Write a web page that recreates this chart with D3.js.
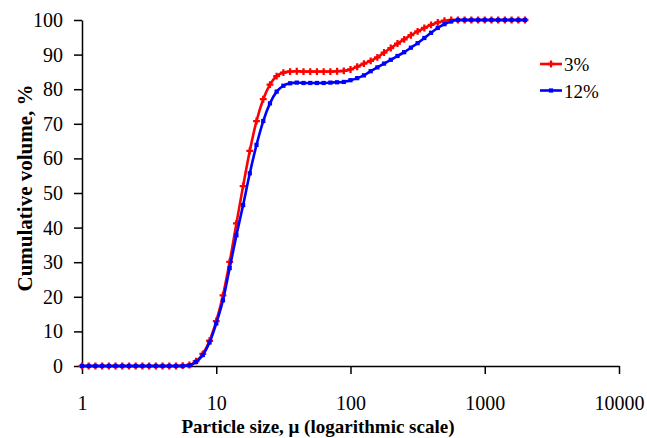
<!DOCTYPE html>
<html>
<head>
<meta charset="utf-8">
<script src="https://cdn.jsdelivr.net/npm/d3@7"></script>
<style>
  body { margin: 0; background: #fff; }
</style>
</head>
<body>
<div id="app"></div>
<script>
// particle size bins (µ), 20 per decade
const sizes = [1, 1.122, 1.259, 1.413, 1.585, 1.778, 1.995, 2.239, 2.512, 2.818,
  3.162, 3.548, 3.981, 4.467, 5.012, 5.623, 6.310, 7.079, 7.943, 8.913,
  10, 11.22, 12.59, 14.13, 15.85, 17.78, 19.95, 22.39, 25.12, 28.18,
  31.62, 35.48, 39.81, 44.67, 50.12, 56.23, 63.10, 70.79, 79.43, 89.13,
  100, 112.2, 125.9, 141.3, 158.5, 177.8, 199.5, 223.9, 251.2, 281.8,
  316.2, 354.8, 398.1, 446.7, 501.2, 562.3, 631.0, 707.9, 794.3, 891.3,
  1000, 1122, 1259, 1413, 1585, 1778, 1995];

// cumulative volume, %
const vol3 = [0, 0, 0, 0, 0, 0, 0, 0, 0, 0,
  0, 0, 0, 0, 0, 0.1, 0.3, 1.4, 3.5, 7.3,
  13, 20.4, 30.1, 41.2, 52, 62.2, 70.8, 77.1, 81.3, 83.8,
  84.8, 85.1, 85.2, 85.1, 85.1, 85.1, 85.1, 85.1, 85.2, 85.3,
  85.7, 86.5, 87.4, 88.2, 89.2, 90.6, 91.9, 93.2, 94.4, 95.6,
  96.7, 97.7, 98.6, 99.3, 99.8, 100, 100, 100, 100, 100,
  100, 100, 100, 100, 100, 100, 100];

const vol12 = [0, 0, 0, 0, 0, 0, 0, 0, 0, 0,
  0, 0, 0, 0, 0, 0, 0.2, 1.2, 3.2, 6.8,
  12.3, 19, 28.3, 37.8, 46.5, 55.7, 63.9, 70.8, 75.9, 79.3,
  81, 81.7, 81.9, 81.8, 81.8, 81.8, 81.8, 81.9, 82, 82.1,
  82.6, 83.2, 84, 85.2, 86.3, 87.4, 88.5, 89.6, 90.7, 92,
  93.3, 94.8, 96.3, 97.7, 98.8, 99.6, 100, 100, 100, 100,
  100, 100, 100, 100, 100, 100, 100];

const seriesNames = ['3%', '12%'];
const xTicks = [1, 10, 100, 1000, 10000];
const yTicks = [0, 10, 20, 30, 40, 50, 60, 70, 80, 90, 100];

const width = 647, height = 438;
const margin = { left: 82, top: 20, right: 28, bottom: 72 };
const serif = 'Liberation Serif';

const svg = d3.select('#app')
  .append('svg')
    .attr('width', width)
    .attr('height', height);

const x = d3.scaleLog().domain([1, 10000]).range([margin.left, width - margin.right]);
const y = d3.scaleLinear().domain([0, 100]).range([height - margin.bottom, margin.top]);

// axes
const gx = svg.append('g')
  .attr('transform', `translate(0, ${y(0)})`)
  .call(d3.axisBottom(x).tickValues(xTicks).tickFormat(d3.format('d')).tickSize(8).tickPadding(22).tickSizeOuter(0));

const gy = svg.append('g')
  .attr('transform', `translate(${x(1)}, 0)`)
  .call(d3.axisLeft(y).tickValues(yTicks).tickSize(8).tickPadding(11).tickSizeOuter(0));

[gx, gy].forEach(g => {
  g.attr('font-family', serif).attr('font-size', 20);
  g.select('.domain').attr('stroke', '#000').attr('stroke-width', 1.5);
  g.selectAll('.tick line').attr('stroke', '#000').attr('stroke-width', 1.5);
  g.selectAll('.tick text').attr('fill', '#000');
});

// axis titles
svg.append('text')
  .attr('x', 318)
  .attr('y', 433)
  .attr('text-anchor', 'middle')
  .attr('font-family', serif)
  .attr('font-size', 19)
  .attr('font-weight', 'bold')
  .text('Particle size, μ (logarithmic scale)');

svg.append('text')
  .attr('transform', 'translate(32, 188) rotate(-90)')
  .attr('text-anchor', 'middle')
  .attr('font-family', serif)
  .attr('font-size', 21)
  .attr('font-weight', 'bold')
  .text('Cumulative volume, %');

// series
const series = [
  { name: seriesNames[0], values: vol3, color: '#ff0000', symbol: d3.symbolCross },
  { name: seriesNames[1], values: vol12, color: '#0000ff', symbol: d3.symbolSquare }
];

const line = d3.line()
  .x((d, i) => x(sizes[i]))
  .y(d => y(d))
  .curve(d3.curveMonotoneX);

series.forEach(s => {
  const g = svg.append('g');
  g.append('path')
    .datum(s.values)
    .attr('fill', 'none')
    .attr('stroke', s.color)
    .attr('stroke-width', 2.6)
    .attr('d', line);
  g.selectAll('path.mk')
    .data(s.values)
    .join('path')
      .attr('class', 'mk')
      .attr('transform', (d, i) => `translate(${x(sizes[i])}, ${y(d)})`)
      .attr('d', d3.symbol().type(s.symbol).size(s.symbol === d3.symbolCross ? 26 : 18))
      .attr('fill', s.color);
});

// legend
const legend = svg.append('g');
series.forEach((s, i) => {
  const ly = 64 + i * 26.5;
  legend.append('line')
    .attr('x1', 540).attr('x2', 562)
    .attr('y1', ly).attr('y2', ly)
    .attr('stroke', s.color)
    .attr('stroke-width', 2.6);
  legend.append('path')
    .attr('transform', `translate(551, ${ly})`)
    .attr('d', d3.symbol().type(s.symbol).size(s.symbol === d3.symbolCross ? 26 : 18))
    .attr('fill', s.color);
  legend.append('text')
    .attr('x', 564)
    .attr('y', ly + 7)
    .attr('font-family', serif)
    .attr('font-size', 19)
    .text(s.name);
});
</script>
</body>
</html>
